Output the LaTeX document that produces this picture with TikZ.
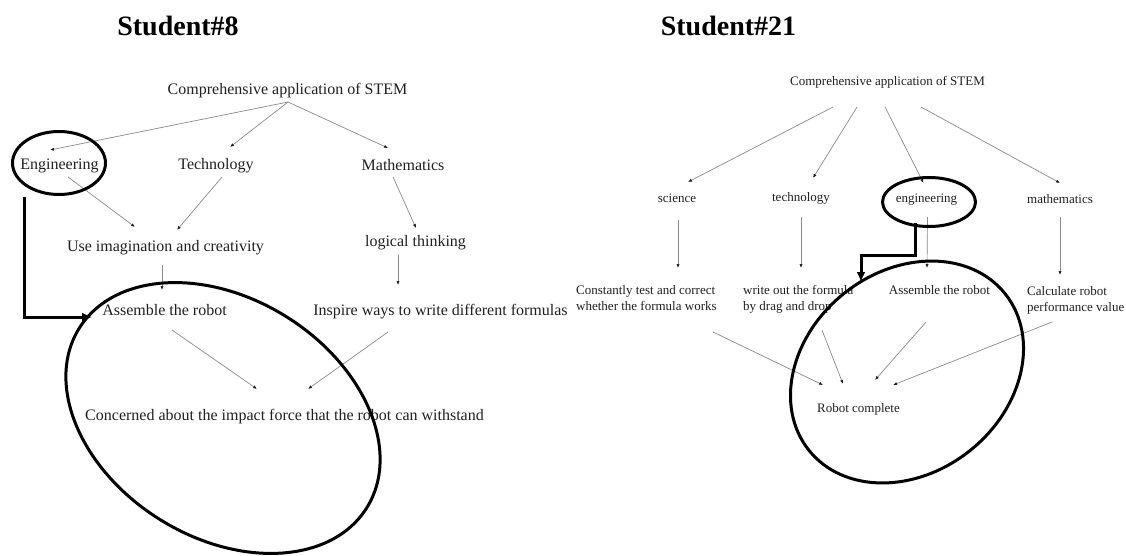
\documentclass[tikz,border=0pt]{standalone}
\usepackage{fontspec}
\setmainfont{Liberation Serif}
\usetikzlibrary{arrows.meta,shapes.geometric,calc}
\definecolor{ink}{HTML}{202020}
\definecolor{lineg}{HTML}{8A8A8A}

\begin{document}
\begin{tikzpicture}[x=1pt,y=-1pt,
  ttl/.style={font=\bfseries\fontsize{28}{32}\selectfont, inner sep=0pt, anchor=base, text=black},
  lbl/.style={font=\fontsize{16}{19}\selectfont, inner sep=0pt, anchor=base, text=ink},
  sml/.style={font=\fontsize{13}{16}\selectfont, inner sep=0pt, anchor=base, text=ink},
  cn/.style={draw=lineg, line width=0.7pt, -{Latex[length=4pt,width=3.2pt,color=ink]}},
  hl/.style={draw=black, line width=3pt, ellipse, inner sep=0pt},
  ringline/.style={draw=black, line width=3pt},
  hlarrow/.style={draw=black, line width=3pt, -{Latex[length=10pt,width=9pt]}}]

\fill[white] (0,0) rectangle (1126,555);
\useasboundingbox (0,0) rectangle (1126,555);

% titles
\node[ttl] (t8)  at (178,35)   {Student\#8};
\node[ttl] (t21) at (728.5,35) {Student\#21};

% ---- Student 8 map ----
\node[lbl] (compL) at (287.5,94)    {Comprehensive application of STEM};
\node[lbl] (eng)   at (59.5,169)    {Engineering};
\node[lbl] (tech)  at (216,169)     {Technology};
\node[lbl] (math)  at (403,170.5)   {Mathematics};
\node[lbl] (use)   at (165.5,251.5) {Use imagination and creativity};
\node[lbl] (logic) at (415.5,246)   {logical thinking};
\node[lbl] (asmL)  at (164.5,315.6) {Assemble the robot};
\node[lbl] (insp)  at (440.5,315.5) {Inspire ways to write different formulas};
\node[lbl] (conc)  at (284.5,420)   {Concerned about the impact force that the robot can withstand};

\draw[cn] ($(compL.base)+(0.5,8)$) -- ($(eng.base)+(-9.5,-19)$);
\draw[cn] ($(compL.base)+(0.5,8)$) -- ($(tech.base)+(14,-22)$);
\draw[cn] ($(compL.base)+(0.5,8)$) -- ($(math.base)+(-15,-22.5)$);
\draw[cn] ($(eng.base)+(8.5,8)$)   -- ($(use.base)+(-30.5,-24.5)$);
\draw[cn] ($(tech.base)+(6,8)$)    -- ($(use.base)+(11.5,-21.5)$);
\draw[cn] ($(math.base)+(-10,6.5)$) -- ($(logic.base)+(0.5,-18)$);
\draw[cn] ($(use.base)+(-3.5,13.5)$) -- ($(asmL.base)+(-2.5,-25.6)$);
\draw[cn] ($(logic.base)+(-17.5,9)$) -- ($(insp.base)+(-42.5,-30.5)$);
\draw[cn] ($(asmL.base)+(7.5,14.4)$) -- ($(conc.base)+(-27.5,-31)$);
\draw[cn] ($(insp.base)+(-52.5,16.5)$) -- ($(conc.base)+(23.5,-31)$);

% highlights
\node[hl, minimum width=93, minimum height=63] (ringL) at ($(eng.base)+(-0.5,-6)$) {};
\draw[ringline, shift={(223,418)}, rotate=-32] (0,0) ellipse [x radius=169.5, y radius=119.5];
\draw[hlarrow] ($(eng.base)+(-35.5,28)$) |- ($(asmL.base)+(-72.5,1.4)$);

% ---- Student 21 map ----
\node[sml] (compR) at (887.5,85.5) {Comprehensive application of STEM};
\node[sml] (sci)   at (677,202)    {science};
\node[sml] (techR) at (801,201)    {technology};
\node[sml] (engR)  at (926.5,202)  {engineering};
\node[sml] (mathR) at (1060,203.5) {mathematics};
\node[sml, anchor=base west, align=left] (const) at (576,310) {Constantly test and correct\\whether the formula works};
\node[sml, anchor=base west, align=left] (write) at (743,310) {write out the formula\\by drag and drop};
\node[sml] (asmR)  at (939.5,294)  {Assemble the robot};
\node[sml, anchor=base west, align=left] (perf) at (1027,311.7) {Calculate robot\\performance value};
\node[sml] (robot) at (858.5,412)  {Robot complete};

\draw[cn] ($(compR.base)+(-54.5,21.5)$) -- ($(sci.base)+(11,-20)$);
\draw[cn] ($(compR.base)+(-30.5,21.5)$) -- ($(techR.base)+(12,-23)$);
\draw[cn] ($(compR.base)+(-2.5,21.5)$)  -- ($(engR.base)+(-3,-19)$);
\draw[cn] ($(compR.base)+(33.5,21.5)$)  -- ($(mathR.base)+(0,-20.5)$);
\draw[cn] ($(sci.base)+(1,18)$)    -- ($(const.base west)+(102,-42)$);
\draw[cn] ($(techR.base)+(0,16)$)  -- ($(write.base west)+(58,-42)$);
\draw[cn] ($(engR.base)+(1,15)$)   -- ($(asmR.base)+(-12.5,-26)$);
\draw[cn] ($(mathR.base)+(0,13.5)$) -- ($(perf.base west)+(33,-36.7)$);
\draw[cn] ($(const.base west)+(137,22)$) -- ($(robot.base)+(-35.5,-27)$);
\draw[cn] ($(write.base west)+(79,20)$)  -- ($(robot.base)+(-15.5,-28)$);
\draw[cn] ($(asmR.base)+(-13.5,28)$)     -- ($(robot.base)+(16.5,-32)$);
\draw[cn] ($(perf.base west)+(25,10.3)$) -- ($(robot.base)+(34.5,-27)$);

% highlights
\node[hl, minimum width=93, minimum height=49] (ringR) at ($(engR.base)+(2.5,0)$) {};
\draw[ringline, shift={(907,372)}, rotate=38.5] (0,0) ellipse [x radius=125.5, y radius=100.7];
\draw[hlarrow] ($(engR.base)+(-11.5,21)$) -- ++(0,32) -| ($(asmR.base)+(-78.5,-12)$);

\end{tikzpicture}
\end{document}
